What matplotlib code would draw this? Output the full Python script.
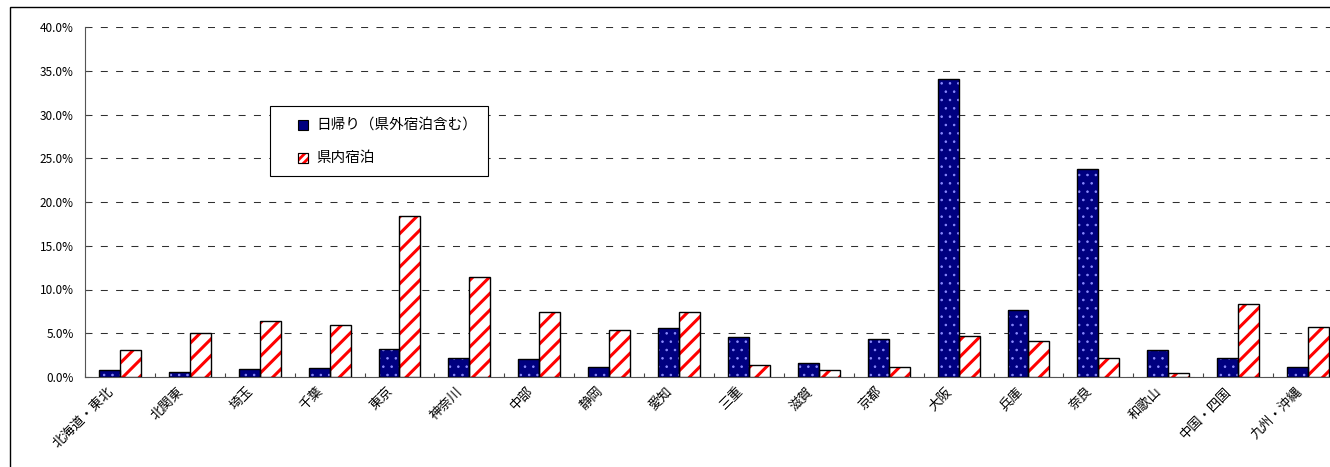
import numpy as np
import matplotlib
matplotlib.use("Agg")
import matplotlib.pyplot as plt
from matplotlib.patches import Rectangle

plt.rcParams['font.family'] = ['Noto Sans CJK JP', 'DejaVu Sans']

regions = ["北海道・東北", "北関東", "埼玉", "千葉", "東京", "神奈川", "中部", "静岡", "愛知",
           "三重", "滋賀", "京都", "大阪", "兵庫", "奈良", "和歌山", "中国・四国", "九州・沖縄"]
daytrip = [0.77, 0.60, 0.90, 1.06, 3.2, 2.2, 2.06, 1.18, 5.56,
           4.57, 1.64, 4.38, 34.06, 7.62, 23.8, 3.09, 2.2, 1.18]
stay = [3.05, 5.0, 6.4, 6.0, 18.4, 11.4, 7.46, 5.4, 7.46,
        1.33, 0.76, 1.18, 4.69, 4.11, 2.17, 0.46, 8.34, 5.71]
labels = ["日帰り（県外宿泊含む）", "県内宿泊"]
yticks = [0, 5, 10, 15, 20, 25, 30, 35, 40]

W, H = 1330, 467
fig = plt.figure(figsize=(W / 100, H / 100), dpi=100)
ax = fig.add_axes([85 / W, 1 - 377 / H, 1258 / W, 350 / H])

def px(x, y):
    # pixel position (from top-left) -> figure fraction
    return x / W, 1 - y / H

# outer frame of the chart area
fig.patches.append(Rectangle((10 / W, -0.01), 1.1, 1 - 7 / H + 0.01, transform=fig.transFigure,
                             fill=False, edgecolor='black', linewidth=1.0))

x = np.arange(len(regions))
w = 0.3
navy = '#000080'

with plt.rc_context({'hatch.linewidth': 0.6}):
    ax.bar(x - w / 2, daytrip, w, color=navy, edgecolor='#8c8cff', hatch='..',
           linewidth=0, zorder=3)
with plt.rc_context({'hatch.linewidth': 2.2}):
    ax.bar(x + w / 2, stay, w, color='white', edgecolor='#ff0000', hatch='//',
           linewidth=0, zorder=3)
ax.bar(x - w / 2, daytrip, w, fill=False, edgecolor='black', linewidth=1.0, zorder=4)
ax.bar(x + w / 2, stay, w, fill=False, edgecolor='black', linewidth=1.0, zorder=4)

ax.set_xlim(-0.5, len(regions) - 0.5)
ax.set_ylim(0, 40)
ax.set_yticks(yticks)
ax.set_yticklabels([f"{v:.1f}%" for v in yticks], fontsize=8.5)
ax.yaxis.grid(True, linestyle=(0, (6.7, 8)), color='#303030', linewidth=0.75)
ax.set_axisbelow(True)
ax.tick_params(axis='y', direction='in', length=3, width=0.8, color='#444444', pad=8)

# label anchors sit a little left of the category centre (invisible major ticks)
ax.set_xticks(x - 0.12)
ax.set_xticklabels(regions, rotation=45, ha='right', va='center', rotation_mode='anchor',
                   fontsize=9.5)
ax.set_xticks(np.arange(len(regions) + 1) - 0.5, minor=True)
ax.tick_params(axis='x', which='major', length=0, pad=9)
ax.tick_params(axis='x', which='minor', direction='in', length=3, width=0.8, color='#444444')

for s in ['top', 'right']:
    ax.spines[s].set_visible(False)
ax.spines['left'].set_color('#555555')
ax.spines['bottom'].set_color('#555555')

# legend box
lx0, ly0, lx1, ly1 = 270, 106, 488, 176
fx, fy = px(lx0, ly1)
fig.patches.append(Rectangle((fx, fy), (lx1 - lx0) / W, (ly1 - ly0) / H,
                             transform=fig.transFigure, facecolor='white',
                             edgecolor='black', linewidth=0.8, zorder=5))
entry_y = [125, 158]
with plt.rc_context({'hatch.linewidth': 2.0}):
    styles = [dict(facecolor=navy, edgecolor='black'),
              dict(facecolor='white', edgecolor='red', hatch='////')]
    for lab, ey, st in zip(labels, entry_y, styles):
        mx, my = px(298, ey + 5)
        fig.patches.append(Rectangle((mx, my), 10 / W, 10 / H, transform=fig.transFigure,
                                     linewidth=0.8, zorder=6, **st))
        if 'hatch' in st:
            fig.patches.append(Rectangle((mx, my), 10 / W, 10 / H, transform=fig.transFigure,
                                         fill=False, edgecolor='black', linewidth=0.8, zorder=7))
        tx, ty = px(316, ey)
        fig.text(tx, ty, lab, fontsize=10.5, va='center', ha='left', zorder=7)

fig.savefig("out.png", dpi=100)
